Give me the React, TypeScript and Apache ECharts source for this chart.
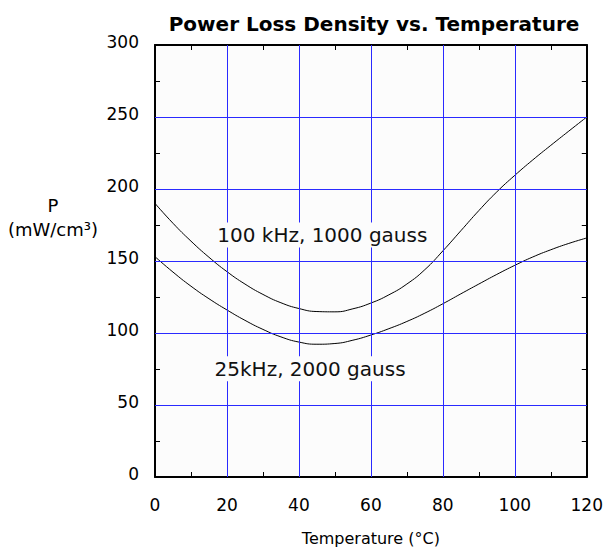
import React, { useEffect, useRef } from "react";
import * as echarts from "echarts";

const temps = [0, 5, 10, 15, 20, 25, 30, 35, 40, 45, 50, 55, 60, 65, 70, 75, 80, 85, 90, 95, 100, 105, 110, 115, 120];
const loss100k = [190, 176.2, 163.8, 152.6, 142.6, 134, 126.8, 121, 117, 114.9, 114.7, 116.8, 120.8, 126.5, 134, 144, 157, 171, 185, 198, 209.5, 220.2, 230.3, 240.2, 250];
const loss25k = [153, 142.3, 132.5, 123.8, 116, 108.8, 102.5, 97.3, 93.7, 92.2, 92.7, 95, 98.6, 103, 108, 113.8, 120.3, 127.2, 134, 140.7, 147, 152.8, 157.8, 162.2, 166];
const label100k = "100 kHz, 1000 gauss";
const label25k = "25kHz, 2000 gauss";
const label100kAt = [46.5, 168];
const label25kAt = [43.1, 75.2];
const titleText = "Power Loss Density vs. Temperature";
const xName = "Temperature (°C)";
const yNameLines = ["P", "(mW/cm³)"];
const xTicks = [0, 20, 40, 60, 80, 100, 120];
const yTicks = [0, 50, 100, 150, 200, 250, 300];

const FONT = "DejaVu Sans";
const GRID_BLUE = "#2a2aff";

export default function App() {
  const ref = useRef<HTMLDivElement>(null);
  useEffect(() => {
    if (!ref.current) return;
    const chart = echarts.init(ref.current, undefined, { renderer: "svg" });
    const pairs = (ys: number[]) => temps.map((t, i) => [t, ys[i]]);
    const labelStyle = {
      show: true,
      position: "inside",
      color: "#111",
      fontFamily: FONT,
      fontSize: 20,
      backgroundColor: "#fcfcfc",
      padding: [3, 3, 2, 3],
    };
    const axisCommon = {
      type: "value",
      axisLine: { show: true, onZero: false, lineStyle: { color: "#000", width: 2 } },
      axisTick: { show: false, inside: true },
      minorTick: { show: true, splitNumber: 2, length: 5, lineStyle: { color: "#000", width: 1 } },
      minorSplitLine: { show: false },
      splitLine: { show: false },
    };
    const gridLineData = [
      ...xTicks.slice(1, -1).map((v) => ({ xAxis: v })),
      ...yTicks.slice(1, -1).map((v) => ({ yAxis: v })),
    ];
    chart.setOption({
      animation: false,
      backgroundColor: "#ffffff",
      textStyle: { fontFamily: FONT },
      title: {
        text: titleText,
        left: 369,
        top: 9,
        textAlign: "center",
        textStyle: { fontFamily: FONT, fontSize: 20, fontWeight: "bold", color: "#000" },
      },
      grid: {
        left: 155,
        right: 19,
        top: 45,
        bottom: 77,
        show: true,
        backgroundColor: "#fcfcfc",
        borderWidth: 0,
      },
      xAxis: [
        {
          ...axisCommon,
          min: 0,
          max: 120,
          interval: 20,
          position: "bottom",
          name: xName,
          nameLocation: "middle",
          nameGap: 53,
          nameTextStyle: { fontFamily: FONT, fontSize: 16, color: "#000" },
          axisLabel: { fontFamily: FONT, fontSize: 17, color: "#000", margin: 19 },
        },
        {
          ...axisCommon,
          min: 0,
          max: 120,
          interval: 20,
          position: "top",
          axisLabel: { show: false },
        },
      ],
      yAxis: [
        {
          ...axisCommon,
          min: 0,
          max: 300,
          interval: 50,
          position: "left",
          axisLabel: {
            fontFamily: FONT,
            fontSize: 17,
            color: "#000",
            margin: 16,
            verticalAlign: "bottom",
            lineHeight: 6,
          },
        },
        {
          ...axisCommon,
          min: 0,
          max: 300,
          interval: 50,
          position: "right",
          axisLabel: { show: false },
        },
      ],
      graphic: [
        {
          type: "text",
          x: 53,
          y: 205,
          style: {
            text: yNameLines[0],
            fontFamily: FONT,
            fontSize: 18,
            fill: "#000",
            textAlign: "center",
            textVerticalAlign: "middle",
          },
        },
        {
          type: "text",
          x: 53,
          y: 229,
          style: {
            text: yNameLines[1],
            fontFamily: FONT,
            fontSize: 18,
            fill: "#000",
            textAlign: "center",
            textVerticalAlign: "middle",
          },
        },
      ],
      series: [
        {
          type: "line",
          name: "gridlines",
          data: [],
          z: 1,
          markLine: {
            silent: true,
            symbol: "none",
            label: { show: false },
            lineStyle: { color: GRID_BLUE, width: 1, type: "solid", opacity: 1 },
            emphasis: { disabled: true },
            data: gridLineData,
          },
        },
        {
          type: "line",
          name: label100k,
          data: pairs(loss100k),
          smooth: 0.5,
          showSymbol: false,
          z: 3,
          lineStyle: { color: "#000", width: 1 },
          markPoint: {
            symbol: "rect",
            symbolSize: 0,
            z: 5,
            data: [{ coord: label100kAt, value: label100k }],
            label: { ...labelStyle, formatter: label100k },
          },
        },
        {
          type: "line",
          name: label25k,
          data: pairs(loss25k),
          smooth: 0.5,
          showSymbol: false,
          z: 3,
          lineStyle: { color: "#000", width: 1 },
          markPoint: {
            symbol: "rect",
            symbolSize: 0,
            z: 5,
            data: [{ coord: label25kAt, value: label25k }],
            label: { ...labelStyle, formatter: label25k },
          },
        },
      ],
    });
    return () => chart.dispose();
  }, []);
  return (
    <div
      ref={ref}
      style={{ position: "fixed", left: 0, top: 0, width: 606, height: 554, background: "#fff" }}
    />
  );
}
